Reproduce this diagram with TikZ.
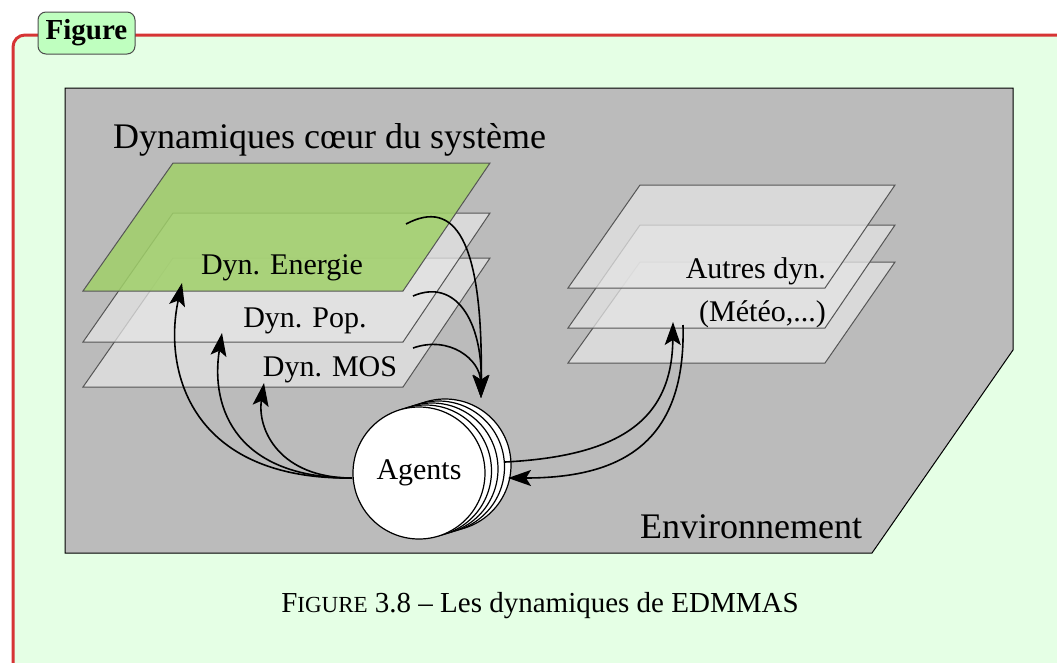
\documentclass[tikz,border=0pt]{standalone}
\usepackage{fontspec}
\newfontfamily\tms{Liberation Serif}
\usetikzlibrary{arrows.meta}
\definecolor{framered}{RGB}{214,52,52}
\definecolor{framebg}{RGB}{229,255,229}
\definecolor{titlebg}{RGB}{191,255,191}
\definecolor{envgray}{RGB}{187,187,187}
\definecolor{planegreen}{RGB}{160,208,105}
\definecolor{planegray}{RGB}{228,228,228}
\definecolor{planeedge}{RGB}{85,85,85}
\newcommand\myplane[8]{%
  \draw[planeedge, line width=1, fill=#7, fill opacity=#8]
    (#3,#1) -- (#4,#1) -- (#6,#2) -- (#5,#2) -- cycle;}
\begin{document}
\begin{tikzpicture}[x=1pt,y=-1pt,
  arr/.style={black, line width=1.6, -{Stealth[length=23pt,width=16pt,inset=5pt]}},
  lbl/.style={font=\tms\fontsize{30}{32}\selectfont, inner sep=0},
  biglbl/.style={font=\tms\fontsize{36}{38}\selectfont, inner sep=0},
  agent/.style={circle, draw=black, line width=1.2, fill=white, minimum size=132pt, inner sep=0}]
\useasboundingbox (0,0) rectangle (1057,662);
\clip (0,0) rectangle (1057,662);
% outer frame
\draw[framered, line width=3, fill=framebg, rounded corners=12] (13,35) rectangle (1100,720);
\node[draw=black!70, line width=1, fill=titlebg, rounded corners=8, minimum width=97pt,
      minimum height=42pt, inner sep=0, font=\tms\fontsize{29}{30}\selectfont\bfseries] (ttl) at (86.5,33) {Figure};
% environment
\draw[fill=envgray, draw=black, line width=1] (65,88) -- (1013,88) -- (1013,350) -- (872,553) -- (65,553) -- cycle;
\node[biglbl, anchor=base west] (coeur) at (113,148) {Dynamiques c\oe ur du syst\`eme};
\node[biglbl, anchor=base west] (env) at (640,538) {Environnement};
% left planes
\myplane{258}{387}{173}{490}{83}{403}{planegray}{0.75}
\myplane{213}{342}{173}{490}{83}{403}{planegray}{0.75}
\myplane{163}{291}{173}{490}{83}{403}{planegreen}{0.85}
% right planes
\myplane{262}{363}{640}{895}{568}{825}{planegray}{0.75}
\myplane{225}{328}{640}{895}{568}{825}{planegray}{0.75}
\myplane{185}{288}{640}{895}{568}{825}{planegray}{0.75}
\node[lbl] (ener) at (282,268) {Dyn. Energie};
\node[lbl] (pop) at (305,321) {Dyn. Pop.};
\node[lbl] (mos) at (330,370) {Dyn. MOS};
\node[lbl, anchor=base east] (autres) at (826,278) {Autres dyn.};
\node[lbl, anchor=base east] (meteo) at (826,321) {(M\'et\'eo,...)};
% agents stack
\node[agent] (ag4) at (445,465) {};
\node[agent] (ag3) at (438.5,467) {};
\node[agent] (ag2) at (432,469) {};
\node[agent] (ag1) at (425.5,471) {};
\node[agent, font=\tms\fontsize{30}{32}\selectfont] (agents) at (419,473) {Agents};
% coordinates
\coordinate (src) at (352,478);
\coordinate (tE) at (182,283);
\coordinate (tP) at (222,333);
\coordinate (tM) at (264,383);
\coordinate (sE) at (406,224);
\coordinate (sP) at (413,296);
\coordinate (sM) at (413,348);
\coordinate (top) at (481,398);
\coordinate (outR) at (505,462);
\coordinate (inR) at (508,478);
\coordinate (tA) at (673,322);
\coordinate (sA) at (683,325);
% arrows agents -> left planes
\draw[arr] (src) .. controls (190,480) and (163,370) .. (tE);
\draw[arr] (src) .. controls (238,478) and (210,410) .. (tP);
\draw[arr] (src) .. controls (280,478) and (257,430) .. (tM);
% arrows planes -> agents
\draw[arr] (sE) .. controls (455,198) and (483,240) .. (top);
\draw[arr] (sP) .. controls (455,278) and (482,320) .. (top);
\draw[arr] (sM) .. controls (450,335) and (480,360) .. (top);
% right exchange
\draw[arr] (outR) .. controls (620,456) and (672,420) .. (tA);
\draw[arr] (sA) .. controls (686,440) and (625,478) .. (inR);
% caption
\node[inner sep=0, anchor=base, font=\tms\fontsize{29}{31}\selectfont] (cap) at (540,612)
  {F{\fontsize{23}{25}\selectfont IGURE} 3.8 \textendash{} Les dynamiques de EDMMAS};
\end{tikzpicture}
\end{document}
